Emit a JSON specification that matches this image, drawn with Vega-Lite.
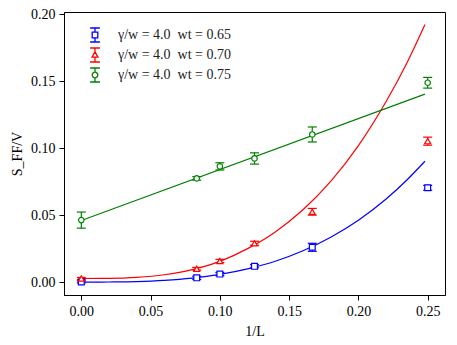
{
  "$schema": "https://vega.github.io/schema/vega-lite/v6.json",
  "autosize": {"type": "none"},
  "padding": {"left": 64, "top": 12, "right": 12, "bottom": 50},
  "width": 381,
  "height": 283,
  "background": "white",
  "datasets": {
    "pts": [
      {"series": "γ/w = 4.0\u2002wt = 0.65", "x": 0, "y": 0.0002, "lo": -0.0006, "hi": 0.001},
      {"series": "γ/w = 4.0\u2002wt = 0.65", "x": 0.0833, "y": 0.0032, "lo": 0.002, "hi": 0.0044},
      {"series": "γ/w = 4.0\u2002wt = 0.65", "x": 0.1, "y": 0.006, "lo": 0.0048, "hi": 0.0072},
      {"series": "γ/w = 4.0\u2002wt = 0.65", "x": 0.125, "y": 0.0118, "lo": 0.0106, "hi": 0.013},
      {"series": "γ/w = 4.0\u2002wt = 0.65", "x": 0.1667, "y": 0.026, "lo": 0.023, "hi": 0.029},
      {"series": "γ/w = 4.0\u2002wt = 0.65", "x": 0.25, "y": 0.0704, "lo": 0.0686, "hi": 0.0722},
      {"series": "γ/w = 4.0\u2002wt = 0.70", "x": 0, "y": 0.0027, "lo": 0.0019, "hi": 0.0035},
      {"series": "γ/w = 4.0\u2002wt = 0.70", "x": 0.0833, "y": 0.01, "lo": 0.009, "hi": 0.011},
      {"series": "γ/w = 4.0\u2002wt = 0.70", "x": 0.1, "y": 0.0158, "lo": 0.0146, "hi": 0.017},
      {"series": "γ/w = 4.0\u2002wt = 0.70", "x": 0.125, "y": 0.029, "lo": 0.0275, "hi": 0.0305},
      {"series": "γ/w = 4.0\u2002wt = 0.70", "x": 0.1667, "y": 0.0525, "lo": 0.05, "hi": 0.055},
      {"series": "γ/w = 4.0\u2002wt = 0.70", "x": 0.25, "y": 0.1052, "lo": 0.1022, "hi": 0.1082},
      {"series": "γ/w = 4.0\u2002wt = 0.75", "x": 0, "y": 0.0463, "lo": 0.0403, "hi": 0.0523},
      {"series": "γ/w = 4.0\u2002wt = 0.75", "x": 0.0833, "y": 0.0774, "lo": 0.0761, "hi": 0.0787},
      {"series": "γ/w = 4.0\u2002wt = 0.75", "x": 0.1, "y": 0.0864, "lo": 0.0837, "hi": 0.0891},
      {"series": "γ/w = 4.0\u2002wt = 0.75", "x": 0.125, "y": 0.0923, "lo": 0.0881, "hi": 0.0965},
      {"series": "γ/w = 4.0\u2002wt = 0.75", "x": 0.1667, "y": 0.1102, "lo": 0.1046, "hi": 0.1158},
      {"series": "γ/w = 4.0\u2002wt = 0.75", "x": 0.25, "y": 0.1488, "lo": 0.1448, "hi": 0.1528}
    ],
    "fits": [
      {"series": "γ/w = 4.0\u2002wt = 0.65", "x": 0, "y": 0.0},
      {"series": "γ/w = 4.0\u2002wt = 0.65", "x": 0.02, "y": 0.0001},
      {"series": "γ/w = 4.0\u2002wt = 0.65", "x": 0.04, "y": 0.0004},
      {"series": "γ/w = 4.0\u2002wt = 0.65", "x": 0.06, "y": 0.0013},
      {"series": "γ/w = 4.0\u2002wt = 0.65", "x": 0.08, "y": 0.003},
      {"series": "γ/w = 4.0\u2002wt = 0.65", "x": 0.1, "y": 0.0058},
      {"series": "γ/w = 4.0\u2002wt = 0.65", "x": 0.12, "y": 0.0099},
      {"series": "γ/w = 4.0\u2002wt = 0.65", "x": 0.14, "y": 0.0156},
      {"series": "γ/w = 4.0\u2002wt = 0.65", "x": 0.16, "y": 0.0234},
      {"series": "γ/w = 4.0\u2002wt = 0.65", "x": 0.18, "y": 0.0335},
      {"series": "γ/w = 4.0\u2002wt = 0.65", "x": 0.2, "y": 0.0462},
      {"series": "γ/w = 4.0\u2002wt = 0.65", "x": 0.22, "y": 0.062},
      {"series": "γ/w = 4.0\u2002wt = 0.65", "x": 0.235, "y": 0.0762},
      {"series": "γ/w = 4.0\u2002wt = 0.65", "x": 0.248, "y": 0.0902},
      {"series": "γ/w = 4.0\u2002wt = 0.70", "x": 0, "y": 0.0027},
      {"series": "γ/w = 4.0\u2002wt = 0.70", "x": 0.02, "y": 0.0028},
      {"series": "γ/w = 4.0\u2002wt = 0.70", "x": 0.04, "y": 0.0035},
      {"series": "γ/w = 4.0\u2002wt = 0.70", "x": 0.06, "y": 0.0055},
      {"series": "γ/w = 4.0\u2002wt = 0.70", "x": 0.08, "y": 0.0093},
      {"series": "γ/w = 4.0\u2002wt = 0.70", "x": 0.1, "y": 0.0155},
      {"series": "γ/w = 4.0\u2002wt = 0.70", "x": 0.12, "y": 0.025},
      {"series": "γ/w = 4.0\u2002wt = 0.70", "x": 0.14, "y": 0.0375},
      {"series": "γ/w = 4.0\u2002wt = 0.70", "x": 0.16, "y": 0.054},
      {"series": "γ/w = 4.0\u2002wt = 0.70", "x": 0.18, "y": 0.0752},
      {"series": "γ/w = 4.0\u2002wt = 0.70", "x": 0.2, "y": 0.1019},
      {"series": "γ/w = 4.0\u2002wt = 0.70", "x": 0.22, "y": 0.1348},
      {"series": "γ/w = 4.0\u2002wt = 0.70", "x": 0.235, "y": 0.1636},
      {"series": "γ/w = 4.0\u2002wt = 0.70", "x": 0.248, "y": 0.1922},
      {"series": "γ/w = 4.0\u2002wt = 0.75", "x": 0, "y": 0.046},
      {"series": "γ/w = 4.0\u2002wt = 0.75", "x": 0.248, "y": 0.1403}
    ]
  },
  "encoding": {
    "x": {
      "field": "x", "type": "quantitative",
      "scale": {"domain": [-0.0125, 0.2625], "nice": false, "zero": false},
      "axis": {"title": "1/L", "values": [0, 0.05, 0.1, 0.15, 0.2, 0.25], "format": ".2f", "titlePadding": 6}
    },
    "color": {
      "field": "series", "type": "nominal",
      "scale": {"domain": ["γ/w = 4.0\u2002wt = 0.65", "γ/w = 4.0\u2002wt = 0.70", "γ/w = 4.0\u2002wt = 0.75"], "range": ["#0000ff", "#ff0000", "#008000"]},
      "legend": {"title": null}
    }
  },
  "layer": [
    {
      "data": {"name": "fits"},
      "mark": {"type": "line", "strokeWidth": 1.2, "interpolate": "monotone"},
      "encoding": {
        "y": {
          "field": "y", "type": "quantitative",
          "scale": {"domain": [-0.0096, 0.2016], "nice": false, "zero": false},
          "axis": {"title": "S_FF/V", "values": [0, 0.05, 0.1, 0.15, 0.2], "format": ".2f", "titlePadding": 6}
        }
      }
    },
    {
      "data": {"name": "pts"},
      "mark": {"type": "rule", "strokeWidth": 1.2},
      "encoding": {"y": {"field": "lo", "type": "quantitative"}, "y2": {"field": "hi"}}
    },
    {
      "data": {"name": "pts"},
      "mark": {"type": "rule", "strokeWidth": 1.2, "xOffset": -4.5, "x2Offset": 4.5},
      "encoding": {"x2": {"field": "x"}, "y": {"field": "lo", "type": "quantitative"}}
    },
    {
      "data": {"name": "pts"},
      "mark": {"type": "rule", "strokeWidth": 1.2, "xOffset": -4.5, "x2Offset": 4.5},
      "encoding": {"x2": {"field": "x"}, "y": {"field": "hi", "type": "quantitative"}}
    },
    {
      "data": {"name": "pts"},
      "transform": [{"filter": "indexof(datum.series, '0.65') >= 0"}],
      "mark": {"type": "point", "shape": "square", "filled": false, "fill": "white", "fillOpacity": 1, "opacity": 1, "strokeWidth": 1.2, "size": 34},
      "encoding": {"y": {"field": "y", "type": "quantitative"}}
    },
    {
      "data": {"name": "pts"},
      "transform": [{"filter": "indexof(datum.series, '0.70') >= 0"}],
      "mark": {"type": "point", "shape": "triangle-up", "filled": false, "fill": "white", "fillOpacity": 1, "opacity": 1, "strokeWidth": 1.2, "size": 36},
      "encoding": {"y": {"field": "y", "type": "quantitative"}}
    },
    {
      "data": {"name": "pts"},
      "transform": [{"filter": "indexof(datum.series, '0.75') >= 0"}],
      "mark": {"type": "point", "shape": "circle", "filled": false, "fill": "white", "fillOpacity": 1, "opacity": 1, "strokeWidth": 1.2, "size": 30},
      "encoding": {"y": {"field": "y", "type": "quantitative"}}
    },
    {
      "data": {"name": "pts"},
      "mark": {"type": "point", "filled": false, "opacity": 0, "strokeWidth": 1.2, "size": 196},
      "encoding": {
        "y": {"field": "y", "type": "quantitative"},
        "shape": {
          "field": "series", "type": "nominal",
          "scale": {"domain": ["γ/w = 4.0\u2002wt = 0.65", "γ/w = 4.0\u2002wt = 0.70", "γ/w = 4.0\u2002wt = 0.75"],
            "range": [
              "M0,-1L0,-0.4M0,0.4L0,1M-0.7,-1L0.7,-1M-0.7,1L0.7,1M-0.4,-0.4L0.4,-0.4L0.4,0.4L-0.4,0.4Z",
              "M0,-1L0,-0.45M0,0.3L0,1M-0.7,-1L0.7,-1M-0.7,1L0.7,1M0,-0.45L0.42,0.3L-0.42,0.3Z",
              "M0,-1L0,-0.4M0,0.4L0,1M-0.7,-1L0.7,-1M-0.7,1L0.7,1M-0.4,0A0.4,0.4,0,1,0,0.4,0A0.4,0.4,0,1,0,-0.4,0Z"
            ]},
          "legend": {"title": null}
        }
      }
    }
  ],
  "config": {
    "view": {"stroke": "#000000", "strokeWidth": 1},
    "legend": {
      "orient": "none", "legendX": 23, "legendY": 15, "padding": 0,
      "symbolOpacity": 1, "symbolSize": 196, "symbolStrokeWidth": 1.3, "symbolFillColor": "white",
      "labelFont": "Liberation Serif", "labelFontSize": 14, "labelColor": "#222222",
      "labelOffset": 15, "rowPadding": 0
    },
    "axis": {
      "grid": false, "domainColor": "#000000", "tickColor": "#000000", "tickSize": 5, "tickWidth": 1,
      "labelFont": "Liberation Serif", "labelFontSize": 14, "labelColor": "#000000", "labelPadding": 4,
      "titleFont": "Liberation Serif", "titleFontSize": 14, "titleFontWeight": "normal", "titleColor": "#000000"
    }
  }
}
